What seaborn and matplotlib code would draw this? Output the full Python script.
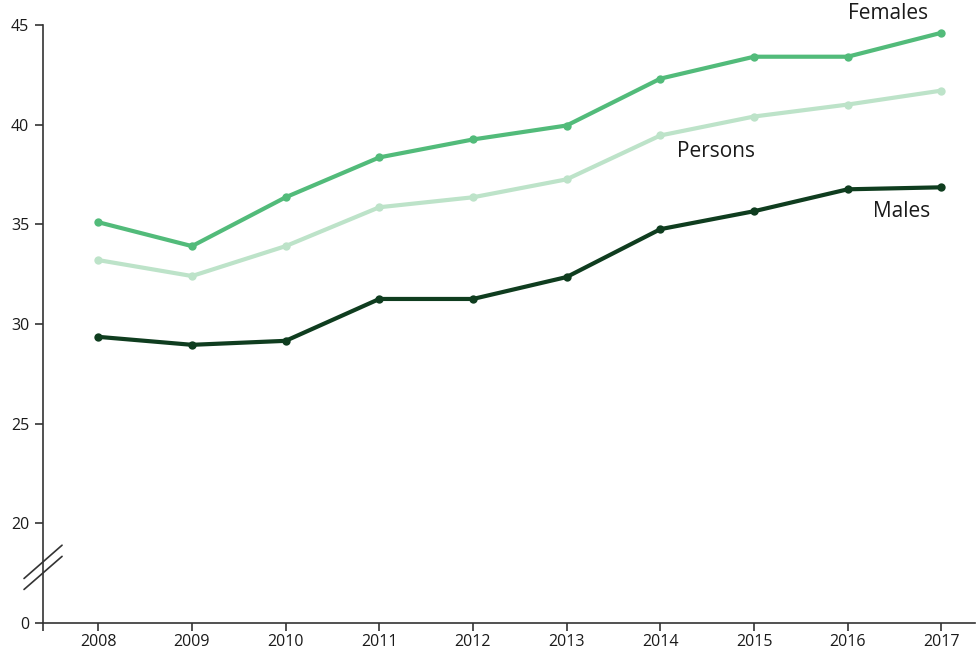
import matplotlib
matplotlib.use("Agg")
import matplotlib.pyplot as plt
import seaborn as sns
import pandas as pd
import numpy as np

years = [2008, 2009, 2010, 2011, 2012, 2013, 2014, 2015, 2016, 2017]
females = [35.1, 33.9, 36.35, 38.35, 39.25, 39.95, 42.3, 43.4, 43.4, 44.6]
persons = [33.2, 32.4, 33.9, 35.85, 36.35, 37.25, 39.45, 40.4, 41.0, 41.7]
males = [29.35, 28.95, 29.15, 31.25, 31.25, 32.35, 34.75, 35.65, 36.75, 36.85]
series_names = ["Persons", "Females", "Males"]
y_ticks = [20, 25, 30, 35, 40, 45]

colors = {"Females": "#52bb7a", "Persons": "#bde3c9", "Males": "#0f3d1f"}

sns.set_theme(style="white")
plt.rcParams["font.family"] = ["Open Sans", "DejaVu Sans"]

df = pd.DataFrame({"year": years * 3,
                   "value": persons + females + males,
                   "series": [s for s in series_names for _ in years]})

fig = plt.figure(figsize=(9.78, 6.53), dpi=100)
ax = fig.add_axes([0.044, 0.046, 0.953, 0.916])

sns.lineplot(data=df, x="year", y="value", hue="series", palette=colors,
             hue_order=series_names, marker="o", markersize=6, markeredgewidth=0,
             linewidth=3, ax=ax, legend=False)

ax.set_xlim(2007.41, 2017.36)
ax.set_ylim(15, 45)
ax.set_xticks(years)
ax.set_xticklabels([str(y) for y in years])
ax.set_xticks([2007.41], minor=True)
ax.set_yticks([15] + y_ticks)
ax.set_yticklabels(["0"] + [str(t) for t in y_ticks])
ax.set_xlabel("")
ax.set_ylabel("")
for s in ["top", "right"]:
    ax.spines[s].set_visible(False)
for s in ["left", "bottom"]:
    ax.spines[s].set_color("#333333")
    ax.spines[s].set_linewidth(1.2)
ax.tick_params(axis="both", which="both", direction="out", length=6, width=1.2,
               color="#333333", labelsize=11.5, labelcolor="#1a1a1a", pad=4,
               bottom=True, left=True)
ax.tick_params(axis="x", pad=2)

# axis break marks
for lo, hi in ((17.23, 18.9), (16.68, 18.34)):
    ax.plot([-0.0204, 0.0204], [lo, hi], transform=ax.get_yaxis_transform(),
            color="#333333", lw=1.2, clip_on=False)

ax.text(2016.43, 45.55, "Females", fontsize=15, ha="center", va="center", color="#1a1a1a")
ax.text(2014.18, 38.66, "Persons", fontsize=15, ha="left", va="center", color="#1a1a1a")
ax.text(2016.27, 35.64, "Males", fontsize=15, ha="left", va="center", color="#1a1a1a")

fig.savefig("out.png", dpi=100)
